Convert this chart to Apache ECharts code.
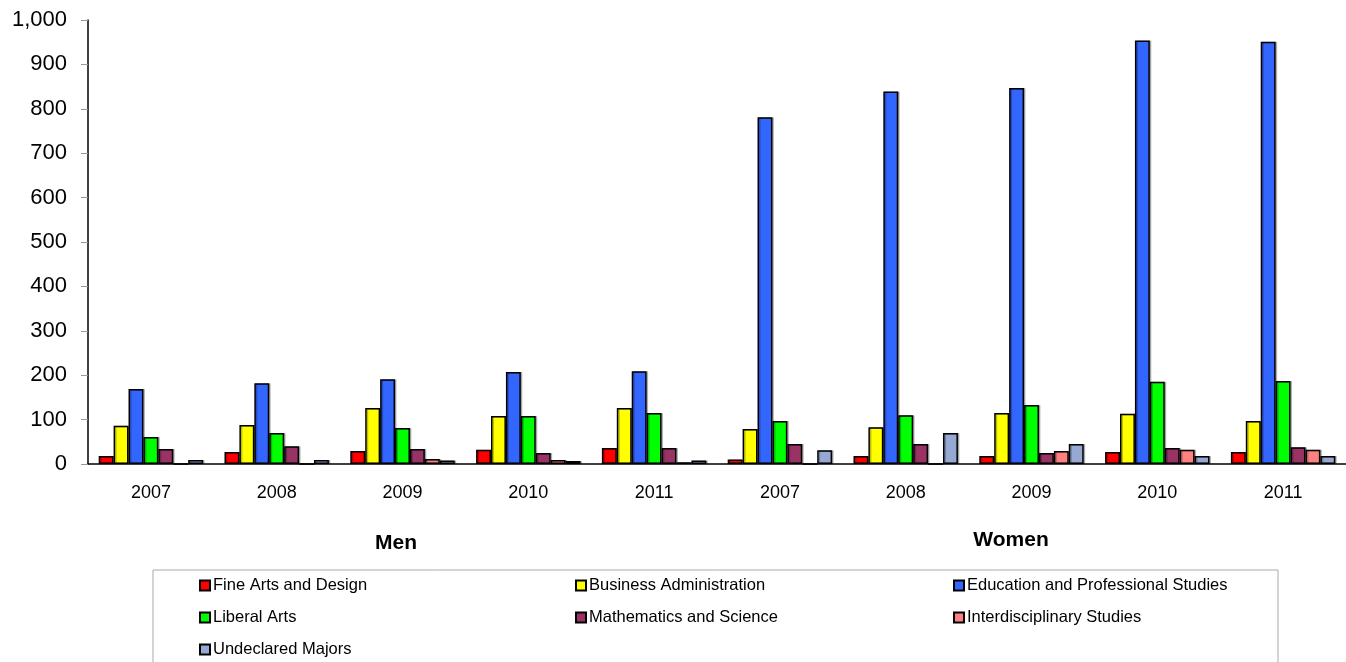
<!DOCTYPE html>
<html>
<head>
<meta charset="utf-8">
<script src="https://cdn.jsdelivr.net/npm/echarts@6/dist/echarts.min.js"></script>
<style>
  html, body { margin: 0; padding: 0; background: #fff; }
  #chart { width: 1346px; height: 662px; }
</style>
</head>
<body>
<div id="chart"></div>
<script>
// categories: five years for men, then five for women
const years = ['2007', '2008', '2009', '2010', '2011', '2007', '2008', '2009', '2010', '2011']
const groupLabels = ['Men', 'Women']

const fineArts = [18, 27, 29, 32, 36, 10, 18, 18, 27, 27]
const business = [86, 88, 126, 108, 126, 79, 83, 115, 113, 97]
const education = [169, 182, 191, 207, 209, 781, 839, 847, 954, 951]
const liberalArts = [61, 70, 81, 108, 115, 97, 110, 133, 185, 187]
const mathScience = [34, 40, 34, 25, 36, 45, 45, 25, 36, 38]
const interdisc = [0, 0, 11, 9, 4, 0, 0, 29, 32, 32]
const undeclared = [9, 9, 8, 7, 8, 31, 70, 45, 18, 18]

const seriesDefs = [
    { name: 'Fine Arts and Design', data: fineArts, color: '#ff0000' },
    { name: 'Business Administration', data: business, color: '#ffff00' },
    { name: 'Education and Professional Studies', data: education, color: '#3366ff' },
    { name: 'Liberal Arts', data: liberalArts, color: '#00ff00' },
    { name: 'Mathematics and Science', data: mathScience, color: '#993366' },
    { name: 'Interdisciplinary Studies', data: interdisc, color: '#ff8080' },
    { name: 'Undeclared Majors', data: undeclared, color: '#95a9d3' }
]

const font = '"Liberation Sans", Arial, sans-serif'
const chart = echarts.init(document.getElementById('chart'))

// legend is laid out in three columns, filled row by row
const legendCols = [199, 575, 953]
const legendRows = [577, 609, 641]
const legends = seriesDefs.map((s, i) => ({
    left: legendCols[i % 3],
    top: legendRows[Math.floor(i / 3)],
    padding: 0,
    itemWidth: 10,
    itemHeight: 10,
    icon: 'rect',
    data: [s.name],
    textStyle: { fontFamily: font, fontSize: 16.5, color: '#000', padding: [0, 0, 0, -2] }
}))

const option = {
    animation: false,
    grid: { left: 88, top: 20, width: 1263, height: 444 },
    xAxis: {
        type: 'category',
        data: years,
        axisLine: { lineStyle: { color: '#000', width: 1.5 } },
        axisTick: { length: 6, lineStyle: { color: '#999' } },
        axisLabel: { fontFamily: font, fontSize: 18, color: '#000', margin: 20 }
    },
    yAxis: {
        type: 'value',
        min: 0,
        max: 1000,
        interval: 100,
        splitLine: { show: false },
        axisLine: { show: true, lineStyle: { color: '#000', width: 1.5 } },
        axisTick: { show: true, length: 7, lineStyle: { color: '#999' } },
        axisLabel: {
            fontFamily: font, fontSize: 22, color: '#000', margin: 21,
            formatter: v => v.toLocaleString('en-US')
        }
    },
    legend: legends,
    graphic: [
        {
            type: 'rect',
            shape: { x: 153, y: 570, width: 1125, height: 120 },
            style: { fill: 'none', stroke: '#aaa', lineWidth: 1 },
            silent: true
        },
        {
            type: 'text', x: 396, y: 543,
            style: { text: groupLabels[0], font: 'bold 21px ' + font, fill: '#000', align: 'center', verticalAlign: 'middle' }
        },
        {
            type: 'text', x: 1011, y: 540,
            style: { text: groupLabels[1], font: 'bold 21px ' + font, fill: '#000', align: 'center', verticalAlign: 'middle' }
        }
    ],
    series: seriesDefs.map(s => ({
        name: s.name,
        type: 'bar',
        data: s.data,
        barGap: '0%',
        barCategoryGap: '17%',
        itemStyle: {
            color: s.color,
            borderColor: '#000',
            borderWidth: 1.5,
            shadowColor: 'rgba(0,0,0,0.25)',
            shadowOffsetX: 1.5,
            shadowOffsetY: 0
        }
    }))
}

chart.setOption(option)
</script>
</body>
</html>
